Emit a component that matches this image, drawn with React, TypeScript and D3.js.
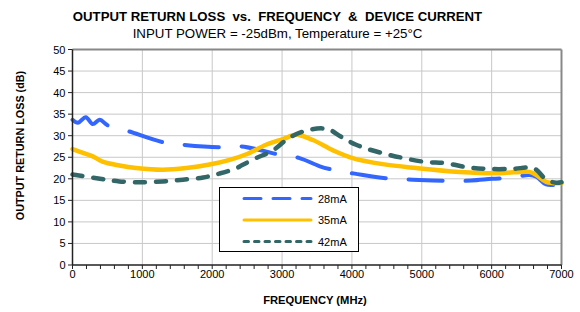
import React from "react";
import * as d3 from "d3";

const xTicks = [0, 1000, 2000, 3000, 4000, 5000, 6000, 7000];
const yTicks = [0, 5, 10, 15, 20, 25, 30, 35, 40, 45, 50];

const blueFreq = [0, 80, 190, 290, 390, 505, 770, 1290, 1580, 2130, 2420, 2960, 3250, 3540, 3780, 4040, 4610, 4870, 5440, 5710, 6010, 6300, 6540, 6640, 6780, 7000];
const blueVal = [33.7, 33.0, 34.3, 32.7, 33.7, 32.4, 31.2, 28.5, 27.9, 27.3, 27.5, 25.6, 24.8, 22.9, 21.9, 21.2, 19.9, 19.8, 19.5, 19.6, 20.0, 20.3, 20.9, 20.5, 18.7, 18.8];

const yellowFreq = [0, 150, 290, 430, 670, 910, 1290, 1630, 1960, 2250, 2490, 2770, 3010, 3200, 3440, 3730, 4010, 4440, 4920, 5540, 6110, 6540, 6640, 6780, 7000];
const yellowVal = [26.9, 26.0, 25.2, 24.0, 23.1, 22.5, 22.1, 22.5, 23.3, 24.4, 25.7, 27.9, 29.2, 30.2, 29.0, 26.6, 24.8, 23.4, 22.5, 21.6, 21.3, 21.6, 20.9, 19.3, 19.0];

const greenFreq = [0, 240, 480, 670, 960, 1290, 1580, 1870, 2100, 2340, 2430, 2630, 2870, 3110, 3350, 3560, 3680, 3840, 4060, 4400, 5010, 5350, 5640, 5920, 6300, 6540, 6640, 6780, 6920, 7000];
const greenVal = [21.0, 20.4, 19.8, 19.4, 19.2, 19.4, 19.8, 20.3, 21.2, 22.4, 23.2, 24.8, 26.6, 29.6, 31.2, 31.7, 31.4, 29.8, 27.9, 26.1, 24.0, 23.6, 22.7, 22.3, 22.3, 22.6, 22.1, 19.8, 19.1, 19.2];

const seriesNames = ["28mA", "35mA", "42mA"];

const FONT = "'Liberation Sans', Arial, sans-serif";

export default function App() {
  const left = 72.5, right = 561.5, top = 49.5, bottom = 265;
  const x = d3.scaleLinear().domain([0, 7000]).range([left, right]);
  const y = d3.scaleLinear().domain([0, 50]).range([bottom, top]);
  const line = d3
    .line<[number, number]>()
    .x((d) => x(d[0]))
    .y((d) => y(d[1]))
    .curve(d3.curveCatmullRom.alpha(0.5));

  const mk = (f: number[], v: number[]) => f.map((ff, i) => [ff, v[i]] as [number, number]);

  // blue: longer first dash (wiggly segment), then regular pattern
  const blueDash = [44, 23].concat(...Array(20).fill([34, 23])).join(",");

  const series = [
    { name: seriesNames[0], data: mk(blueFreq, blueVal), color: "#3366FF", width: 4, dash: blueDash, legDash: "17,12", cap: "round" },
    { name: seriesNames[1], data: mk(yellowFreq, yellowVal), color: "#FFC000", width: 4.5, dash: "none", legDash: "none", cap: "round" },
    { name: seriesNames[2], data: mk(greenFreq, greenVal), color: "#336666", width: 4.5, dash: "10,11", legDash: "4.5,6", cap: "round" },
  ];

  const minor = d3.range(0, 7001, 200);

  return (
    <svg
      width={580}
      height={312}
      style={{ position: "fixed", left: 0, top: 0, background: "#fff" }}
      fontFamily={FONT}
    >
      <rect x={0} y={0} width={580} height={312} fill="#fff" />
      <text x={277.5} y={20.5} textAnchor="middle" fontSize={13.2} fontWeight="bold" fill="#000" style={{ whiteSpace: "pre" }}>
        {"OUTPUT RETURN LOSS  vs.  FREQUENCY  &  DEVICE CURRENT"}
      </text>
      <text x={277.5} y={38} textAnchor="middle" fontSize={13.3} fill="#000">
        INPUT POWER = -25dBm, Temperature = +25°C
      </text>

      {/* gridlines */}
      {yTicks.slice(1, -1).map((t) => (
        <line key={"gy" + t} x1={left} x2={right} y1={y(t)} y2={y(t)} stroke="#C8C8C8" strokeWidth={1} />
      ))}
      {xTicks.slice(1, -1).map((t) => (
        <line key={"gx" + t} x1={x(t)} x2={x(t)} y1={top} y2={bottom} stroke="#C8C8C8" strokeWidth={1} />
      ))}
      {/* frame top & right */}
      <line x1={left} x2={right} y1={top} y2={top} stroke="#888" strokeWidth={2} />
      <line x1={right} x2={right} y1={top} y2={bottom} stroke="#888" strokeWidth={2} />

      {/* series */}
      {series.map((s) => (
        <path
          key={s.name}
          d={line(s.data) || ""}
          fill="none"
          stroke={s.color}
          strokeWidth={s.width}
          strokeDasharray={s.dash}
          strokeLinecap={s.cap as any}
          strokeLinejoin="round"
        />
      ))}

      {/* axes */}
      <line x1={left} x2={left} y1={top} y2={bottom} stroke="#222" strokeWidth={1.5} />
      <line x1={left} x2={right} y1={bottom} y2={bottom} stroke="#222" strokeWidth={1.5} />
      {yTicks.map((t) => (
        <g key={"yt" + t}>
          <line x1={left - 4.5} x2={left} y1={y(t)} y2={y(t)} stroke="#222" strokeWidth={1} />
          <text x={left - 7} y={y(t) + 4} textAnchor="end" fontSize={11} fill="#000">
            {t}
          </text>
        </g>
      ))}
      {minor.map((t) => (
        <line key={"xm" + t} x1={x(t)} x2={x(t)} y1={bottom} y2={bottom + 4} stroke="#222" strokeWidth={1} />
      ))}
      {xTicks.map((t) => (
        <text key={"xt" + t} x={x(t)} y={bottom + 13} textAnchor="middle" fontSize={11} fill="#000">
          {t}
        </text>
      ))}
      <text x={315} y={303.5} textAnchor="middle" fontSize={11.2} fontWeight="bold" fill="#000">
        FREQUENCY (MHz)
      </text>
      <text
        transform="translate(24,145.5) rotate(-90)"
        textAnchor="middle"
        fontSize={10.8}
        fontWeight="bold"
        fill="#000"
      >
        OUTPUT RETURN LOSS (dB)
      </text>

      {/* legend */}
      <rect x={219.5} y={187.5} width={139} height={64} fill="#fff" stroke="#000" strokeWidth={1} />
      {series.map((s, i) => {
        const ly = 198.5 + i * 21.5;
        return (
          <g key={"leg" + s.name}>
            <line
              x1={244}
              x2={311}
              y1={ly}
              y2={ly}
              stroke={s.color}
              strokeWidth={3}
              strokeDasharray={s.legDash}
              strokeLinecap={s.cap as any}
            />
            <text x={318} y={ly + 4} fontSize={11} fill="#000">
              {s.name}
            </text>
          </g>
        );
      })}
    </svg>
  );
}
